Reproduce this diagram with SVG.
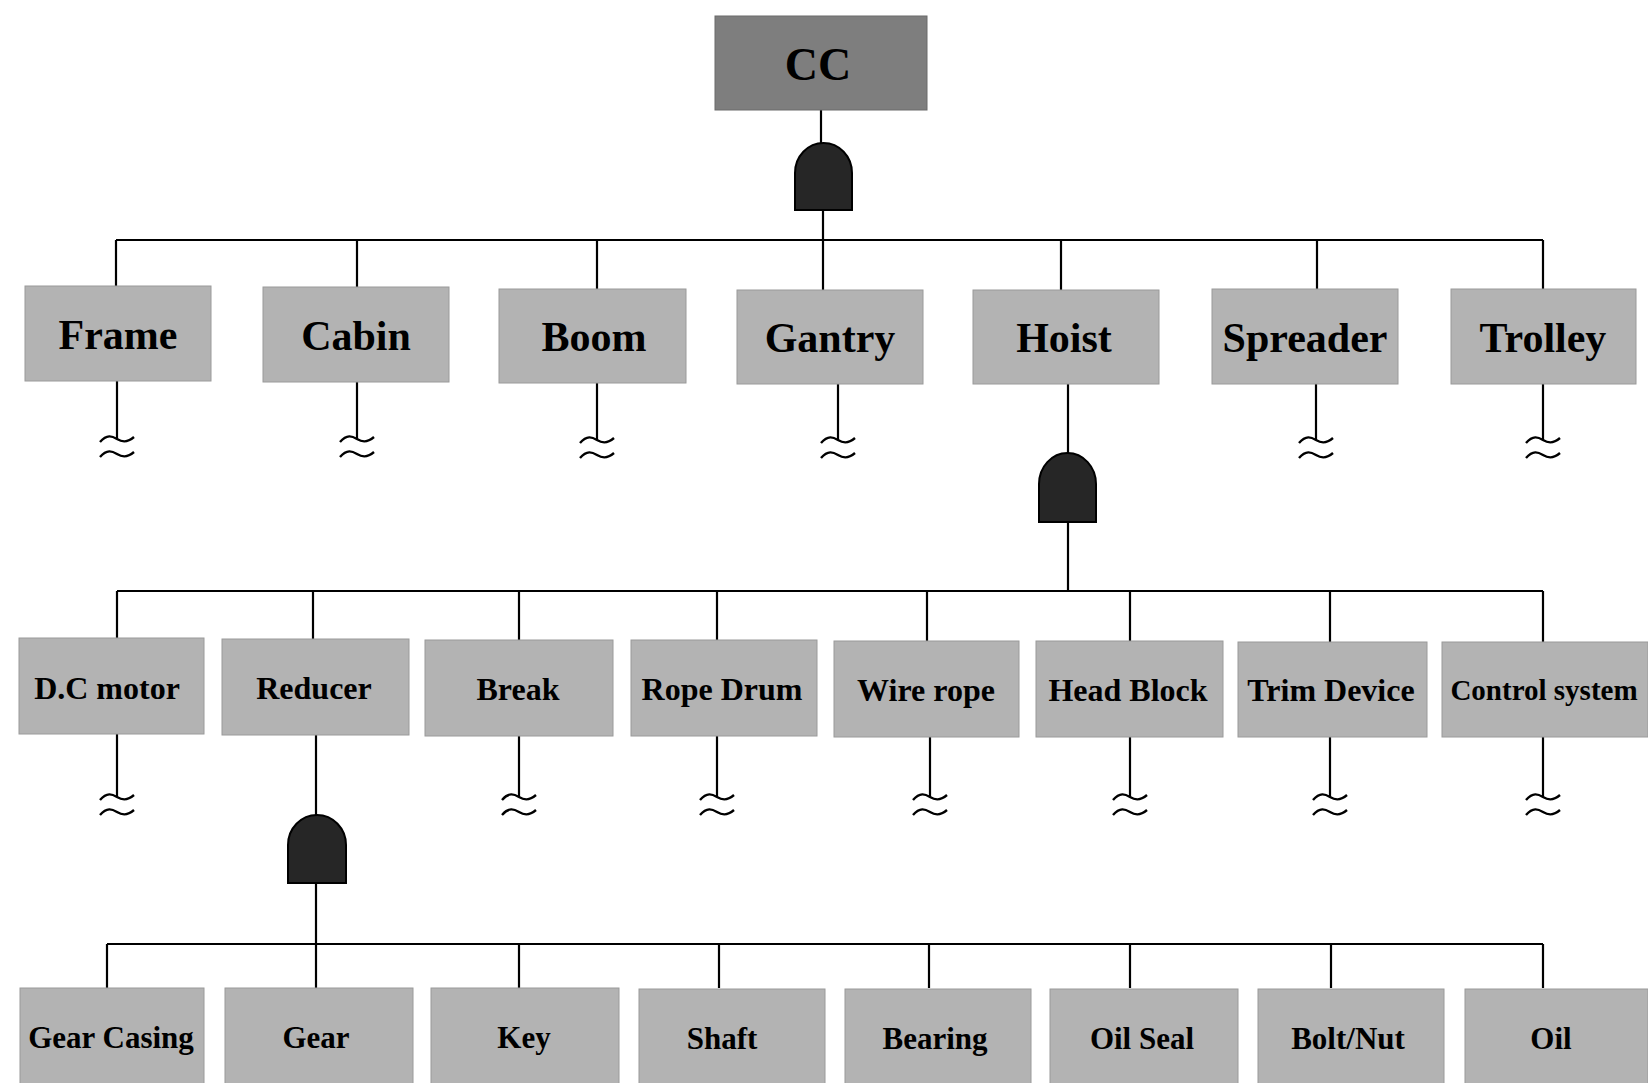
<svg xmlns="http://www.w3.org/2000/svg" xmlns:xlink="http://www.w3.org/1999/xlink" width="1648" height="1083" viewBox="0 0 1648 1083">
<style>
.box{fill:#b3b3b3;stroke:#9a9a9a;stroke-width:1}
.top{fill:#7e7e7e;stroke:#6a6a6a;stroke-width:1}
.gate{fill:#262626;stroke:#000;stroke-width:2}
.ln{fill:none;stroke:#000;stroke-width:2.2}
.t1{font-family:"Liberation Serif","Times New Roman",serif;font-weight:bold;font-size:42px;text-anchor:middle;fill:#000}
.t0{font-family:"Liberation Serif","Times New Roman",serif;font-weight:bold;font-size:46px;text-anchor:middle;fill:#000}
.t2{font-family:"Liberation Serif","Times New Roman",serif;font-weight:bold;font-size:32px;text-anchor:middle;fill:#000}
.t3{font-family:"Liberation Serif","Times New Roman",serif;font-weight:bold;font-size:31px;text-anchor:middle;fill:#000}
</style>
<defs>
<g id="tilde" fill="none" stroke="#000" stroke-width="2.4">
<path d="M-17,3 C-10,-5 -5,-3 0,0 C5,3 10,4 17,-2"/>
<path d="M-17,18 C-10,10 -5,12 0,15 C5,18 10,19 17,13"/>
</g>
</defs>
<rect width="1648" height="1083" fill="#fff"/>

<g id="connectors">
<path class="ln" d="M821,110 V143"/>
<path class="ln" d="M823,210 V290"/>
<path class="ln" d="M116,240 H1543"/>
<path class="ln" d="M116,240 V286 M357,240 V287 M597,240 V289 M1061,240 V290 M1317,240 V289 M1543,240 V289"/>
<path class="ln" d="M117,381 V439 M357,382 V439 M597,383 V440 M838,384 V440 M1316,384 V440 M1543,384 V440"/>
<path class="ln" d="M1068,384 V453"/>
<path class="ln" d="M1068,522 V591"/>
<path class="ln" d="M117,591 H1543"/>
<path class="ln" d="M117,591 V638 M313,591 V639 M519,591 V640 M717,591 V640 M927,591 V641 M1130,591 V641 M1330,591 V642 M1543,591 V642"/>
<path class="ln" d="M117,734 V797 M519,736 V797 M717,736 V797 M930,737 V797 M1130,737 V797 M1330,737 V797 M1543,737 V797"/>
<path class="ln" d="M316,735 V815"/>
<path class="ln" d="M316,883 V988"/>
<path class="ln" d="M107,944 H1543"/>
<path class="ln" d="M107,944 V988 M519,944 V988 M719,944 V988 M929,944 V988 M1130,944 V988 M1331,944 V988 M1543,944 V988"/>
<use xlink:href="#tilde" x="117" y="439"/>
<use xlink:href="#tilde" x="357" y="439"/>
<use xlink:href="#tilde" x="597" y="440"/>
<use xlink:href="#tilde" x="838" y="440"/>
<use xlink:href="#tilde" x="1316" y="440"/>
<use xlink:href="#tilde" x="1543" y="440"/>
<use xlink:href="#tilde" x="117" y="797"/>
<use xlink:href="#tilde" x="519" y="797"/>
<use xlink:href="#tilde" x="717" y="797"/>
<use xlink:href="#tilde" x="930" y="797"/>
<use xlink:href="#tilde" x="1130" y="797"/>
<use xlink:href="#tilde" x="1330" y="797"/>
<use xlink:href="#tilde" x="1543" y="797"/>
</g>

<g id="gate-cc"><path class="gate" d="M795,210 V173 A28.5,30 0 0 1 852,173 V210 Z"/></g>
<g id="gate-hoist"><path class="gate" d="M1039,522 V484 A28.5,31 0 0 1 1096,484 V522 Z"/></g>
<g id="gate-reducer"><path class="gate" d="M288,883 V845 A29,30 0 0 1 346,845 V883 Z"/></g>

<g id="node-cc"><rect class="top" x="715" y="16" width="212" height="94"/><text class="t0" x="818" y="80">CC</text></g>

<g id="node-frame"><rect class="box" x="25" y="286" width="186" height="95"/><text class="t1" x="118" y="349">Frame</text></g>
<g id="node-cabin"><rect class="box" x="263" y="287" width="186" height="95"/><text class="t1" x="356" y="350">Cabin</text></g>
<g id="node-boom"><rect class="box" x="499" y="289" width="187" height="94"/><text class="t1" x="594" y="351">Boom</text></g>
<g id="node-gantry"><rect class="box" x="737" y="290" width="186" height="94"/><text class="t1" x="830" y="352">Gantry</text></g>
<g id="node-hoist"><rect class="box" x="973" y="290" width="186" height="94"/><text class="t1" x="1064" y="352">Hoist</text></g>
<g id="node-spreader"><rect class="box" x="1212" y="289" width="186" height="95"/><text class="t1" x="1305" y="352">Spreader</text></g>
<g id="node-trolley"><rect class="box" x="1451" y="289" width="185" height="95"/><text class="t1" x="1543" y="352">Trolley</text></g>

<g id="node-dcmotor"><rect class="box" x="19" y="638" width="185" height="96"/><text class="t2" x="107" y="699">D.C motor</text></g>
<g id="node-reducer"><rect class="box" x="222" y="639" width="187" height="96"/><text class="t2" x="314" y="699">Reducer</text></g>
<g id="node-break"><rect class="box" x="425" y="640" width="188" height="96"/><text class="t2" x="518" y="700">Break</text></g>
<g id="node-ropedrum"><rect class="box" x="631" y="640" width="186" height="96"/><text class="t2" x="722" y="700">Rope Drum</text></g>
<g id="node-wirerope"><rect class="box" x="834" y="641" width="185" height="96"/><text class="t2" x="926" y="701">Wire rope</text></g>
<g id="node-headblock"><rect class="box" x="1036" y="641" width="187" height="96"/><text class="t2" x="1128" y="701">Head Block</text></g>
<g id="node-trimdevice"><rect class="box" x="1238" y="642" width="189" height="95"/><text class="t2" x="1331" y="701">Trim Device</text></g>
<g id="node-controlsystem"><rect class="box" x="1442" y="642" width="206" height="95"/><text class="t2" x="1544" y="700" style="font-size:29px">Control system</text></g>

<g id="node-gearcasing"><rect class="box" x="20" y="988" width="184" height="105"/><text class="t3" x="111" y="1048">Gear Casing</text></g>
<g id="node-gear"><rect class="box" x="225" y="988" width="188" height="105"/><text class="t3" x="316" y="1048">Gear</text></g>
<g id="node-key"><rect class="box" x="431" y="988" width="188" height="105"/><text class="t3" x="524" y="1048">Key</text></g>
<g id="node-shaft"><rect class="box" x="639" y="989" width="186" height="105"/><text class="t3" x="722" y="1049">Shaft</text></g>
<g id="node-bearing"><rect class="box" x="845" y="989" width="186" height="105"/><text class="t3" x="935" y="1049">Bearing</text></g>
<g id="node-oilseal"><rect class="box" x="1050" y="989" width="188" height="105"/><text class="t3" x="1142" y="1049">Oil Seal</text></g>
<g id="node-boltnut"><rect class="box" x="1258" y="989" width="186" height="105"/><text class="t3" x="1348" y="1049">Bolt/Nut</text></g>
<g id="node-oil"><rect class="box" x="1465" y="989" width="183" height="105"/><text class="t3" x="1551" y="1049">Oil</text></g>
</svg>
